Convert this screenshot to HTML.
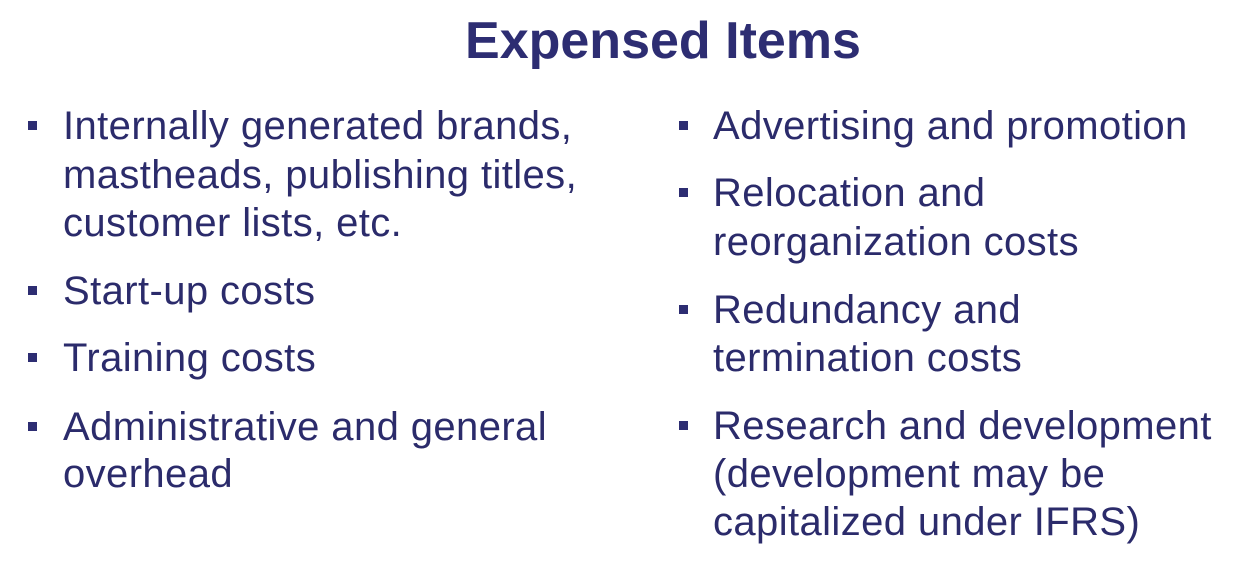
<!DOCTYPE html>
<html><head><meta charset="utf-8"><style>
html,body{margin:0;padding:0;background:#fff;}
#slide{position:relative;width:1236px;height:580px;overflow:hidden;background:#fff;font-family:"Liberation Sans",Arial,sans-serif;color:#2b2b6b;}
.title{position:absolute;left:0;width:1326px;top:11px;text-align:center;font-size:52px;font-weight:bold;line-height:60px;color:#2d2d72;}
.ln{position:absolute;font-size:40px;line-height:48px;white-space:nowrap;letter-spacing:0.4px;}
.b{position:absolute;width:9px;height:9px;background:#2d2d72;}
</style></head><body>
<div id="slide">
<div class="title">Expensed Items</div>

<div class="b" style="left:28px;top:121px"></div>
<div class="ln" style="left:63px;top:102px">Internally generated brands,</div>
<div class="ln" style="left:63px;top:151px">mastheads, publishing titles,</div>
<div class="ln" style="left:63px;top:199px">customer lists, etc.</div>

<div class="b" style="left:28px;top:286px"></div>
<div class="ln" style="left:63px;top:267px">Start-up costs</div>

<div class="b" style="left:28px;top:353px"></div>
<div class="ln" style="left:63px;top:334px">Training costs</div>

<div class="b" style="left:28px;top:422px"></div>
<div class="ln" style="left:63px;top:403px">Administrative and general</div>
<div class="ln" style="left:63px;top:450px">overhead</div>

<div class="b" style="left:679px;top:121px"></div>
<div class="ln" style="left:713px;top:102px">Advertising and promotion</div>

<div class="b" style="left:679px;top:188px"></div>
<div class="ln" style="left:713px;top:169px">Relocation and</div>
<div class="ln" style="left:713px;top:218px">reorganization costs</div>

<div class="b" style="left:679px;top:305px"></div>
<div class="ln" style="left:713px;top:286px">Redundancy and</div>
<div class="ln" style="left:713px;top:334px">termination costs</div>

<div class="b" style="left:679px;top:421px"></div>
<div class="ln" style="left:713px;top:402px">Research and development</div>
<div class="ln" style="left:713px;top:450px">(development may be</div>
<div class="ln" style="left:713px;top:498px">capitalized under IFRS)</div>
</div>
</body></html>
